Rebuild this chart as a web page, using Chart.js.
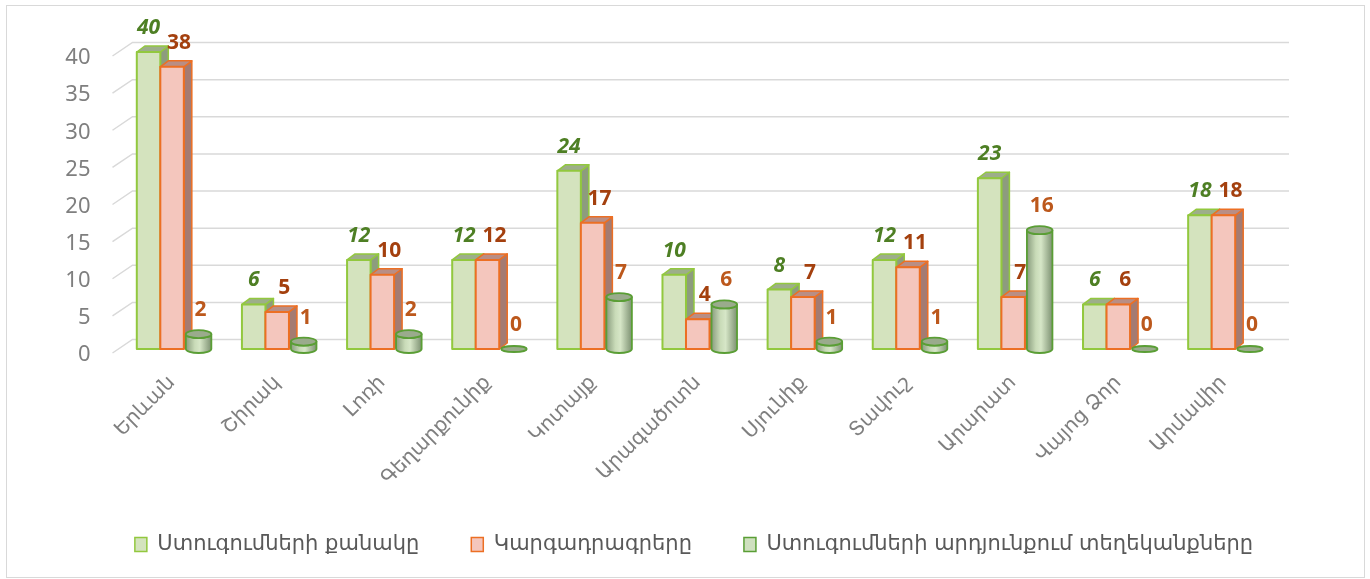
<!DOCTYPE html>
<html>
<head>
<meta charset="utf-8">
<script src="https://cdn.jsdelivr.net/npm/chart.js@4.4.0/dist/chart.umd.min.js"></script>
<style>
  html, body { margin: 0; padding: 0; background: #fff; }
  #wrap { position: relative; width: 1370px; height: 579px; }
  #frame { position: absolute; left: 6px; top: 5px; width: 1359px; height: 573px; border: 1.5px solid #d9d9d9; box-sizing: border-box; pointer-events: none; }
</style>
</head>
<body>
<div id="wrap">
  <canvas id="chart" width="1370" height="579"></canvas>
  <div id="frame"></div>
</div>
<script>
// regions (marzer)
const regions = ["Երևան", "Շիրակ", "Լոռի", "Գեղարքունիք", "Կոտայք", "Արագածոտն", "Սյունիք", "Տավուշ", "Արարատ", "Վայոց Ձոր", "Արմավիր"];
const seriesNames = ["Ստուգումների քանակը", "Կարգադրագրերը", "Ստուգումների արդյունքում տեղեկանքները"];
const inspections = [40, 6, 12, 12, 24, 10, 8, 12, 23, 6, 18];
const orders = [38, 5, 10, 12, 17, 4, 7, 11, 7, 6, 18];
const references = [2, 1, 2, 0, 7, 6, 1, 1, 16, 0, 0];
const yMax = 40;
const yStep = 5;

// colours for the fake 3d faces
const faces = [
  { front: '#d4e3be', top: '#9dae8a', side: '#8d9c7e', line: '#92c83e' },
  { front: '#f4c6bd', top: '#b98e85', side: '#a47b72', line: '#ec6f24' },
  { front: '#cfe0bf', top: '#9aab8c', side: '#86997b', line: '#5a9e35' }
];
const labelColors = ['#4e7f24', '#a4400e', '#bc581c'];
const depth = { dx: 8, dy: 6 };

function drawBox(ctx, el, f) {
  const l = el.x - el.width / 2, r = el.x + el.width / 2, t = el.y, b = el.base;
  const dx = depth.dx, dy = depth.dy;
  ctx.strokeStyle = f.line;
  ctx.lineJoin = 'round';
  ctx.lineWidth = 1.5;
  // side
  ctx.beginPath();
  ctx.moveTo(r, t); ctx.lineTo(r + dx, t - dy); ctx.lineTo(r + dx, b - dy); ctx.lineTo(r, b);
  ctx.closePath();
  ctx.fillStyle = f.side; ctx.fill(); ctx.stroke();
  // top
  ctx.beginPath();
  ctx.moveTo(l, t); ctx.lineTo(l + dx, t - dy); ctx.lineTo(r + dx, t - dy); ctx.lineTo(r, t);
  ctx.closePath();
  ctx.fillStyle = f.top; ctx.fill(); ctx.stroke();
  // front
  ctx.lineWidth = 2;
  ctx.fillStyle = f.front;
  ctx.fillRect(l, t, r - l, b - t);
  ctx.strokeRect(l, t, r - l, b - t);
}

function drawCylinder(ctx, el, f) {
  const cx = el.x + 3, rx = el.width / 2 + 1, ry = 4, t = el.y, b = el.base;
  ctx.strokeStyle = f.line;
  ctx.lineWidth = 1.8;
  if (b - t > 0.5) {
    const g = ctx.createLinearGradient(cx - rx, 0, cx + rx, 0);
    g.addColorStop(0, '#899c7e');
    g.addColorStop(0.35, '#c9dbb8');
    g.addColorStop(0.55, '#d6e6c7');
    g.addColorStop(1, '#7d9172');
    ctx.beginPath();
    ctx.moveTo(cx - rx, t);
    ctx.lineTo(cx - rx, b);
    ctx.ellipse(cx, b, rx, ry, 0, Math.PI, 0, true);
    ctx.lineTo(cx + rx, t);
    ctx.ellipse(cx, t, rx, ry, 0, 0, Math.PI, false);
    ctx.closePath();
    ctx.fillStyle = g; ctx.fill(); ctx.stroke();
  }
  ctx.beginPath();
  ctx.ellipse(cx, t, rx, b - t > 0.5 ? ry : ry - 1, 0, 0, Math.PI * 2);
  ctx.fillStyle = f.top; ctx.fill(); ctx.stroke();
}

const bars3d = {
  id: 'bars3d',
  beforeDatasetsDraw(chart) {
    const ctx = chart.ctx;
    const y = chart.scales.y;
    const left = chart.chartArea.left;
    ctx.save();
    // back wall grid lines with the little diagonal at the left
    ctx.strokeStyle = '#d9d9d9';
    ctx.lineWidth = 1.5;
    y.ticks.forEach(tk => {
      const p = y.getPixelForValue(tk.value);
      ctx.beginPath();
      ctx.moveTo(left - 7, p + 4);
      ctx.lineTo(left + 13, p - 9.5);
      ctx.lineTo(1289, p - 9.5);
      ctx.stroke();
    });
    const metas = chart.data.datasets.map((d, i) => chart.getDatasetMeta(i));
    for (let j = 0; j < chart.data.labels.length; j++) {
      metas.forEach((meta, i) => {
        const el = meta.data[j];
        if (i < 2) drawBox(ctx, el, faces[i]);
        else drawCylinder(ctx, el, faces[i]);
      });
    }
    ctx.restore();
    return false;
  },
  afterDraw(chart) {
    const ctx = chart.ctx;
    const offsets = [0, 7, 5];
    ctx.save();
    ctx.textAlign = 'center';
    ctx.textBaseline = 'middle';
    chart.data.datasets.forEach((ds, i) => {
      const meta = chart.getDatasetMeta(i);
      ctx.fillStyle = labelColors[i];
      ctx.font = (i === 0 ? 'italic ' : '') + 'bold 21px "Noto Sans"';
      meta.data.forEach((el, j) => {
        ctx.fillText(String(ds.data[j]), el.x + offsets[i], el.y - 24);
      });
    });
    ctx.restore();
  }
};

new Chart(document.getElementById('chart'), {
  type: 'bar',
  data: {
    labels: regions,
    datasets: [
      { label: seriesNames[0], data: inspections, backgroundColor: faces[0].front, borderColor: faces[0].line, borderWidth: 1.5 },
      { label: seriesNames[1], data: orders, backgroundColor: faces[1].front, borderColor: faces[1].line, borderWidth: 1.5 },
      { label: seriesNames[2], data: references, backgroundColor: faces[2].front, borderColor: faces[2].line, borderWidth: 1.5, yAxisID: 'y' }
    ]
  },
  options: {
    responsive: false,
    animation: false,
    layout: { padding: { top: 52, right: 0, left: 18, bottom: 14 } },
    datasets: { bar: { categoryPercentage: 0.671, barPercentage: 1.0 } },
    scales: {
      x: {
        grid: { display: false },
        border: { display: false },
        ticks: {
          maxRotation: 45, minRotation: 45, padding: 14,
          color: '#7f7f7f', font: { family: '"DejaVu Sans"', size: 20 }
        },
        afterFit(scale) { scale.height = 133; }
      },
      y: {
        min: 0, max: yMax,
        grid: { display: false },
        border: { display: false },
        ticks: {
          stepSize: yStep, padding: 21, labelOffset: 6,
          color: '#7f7f7f', font: { family: '"Noto Sans"', size: 22 }
        },
        afterFit(scale) { scale.width = 101.5; }
      },
      // empty right-hand strip so the legend stays centred on the whole canvas
      spacer: {
        position: 'right',
        min: 0, max: yMax,
        grid: { display: false },
        border: { display: false },
        ticks: { display: false },
        afterFit(scale) { scale.width = 94; }
      }
    },
    plugins: {
      tooltip: { enabled: false },
      legend: {
        position: 'bottom',
        labels: {
          boxWidth: 12, boxHeight: 14, padding: 52,
          color: '#595959', font: { family: '"DejaVu Sans"', size: 21 }
        }
      }
    }
  },
  plugins: [bars3d]
});
</script>
</body>
</html>
